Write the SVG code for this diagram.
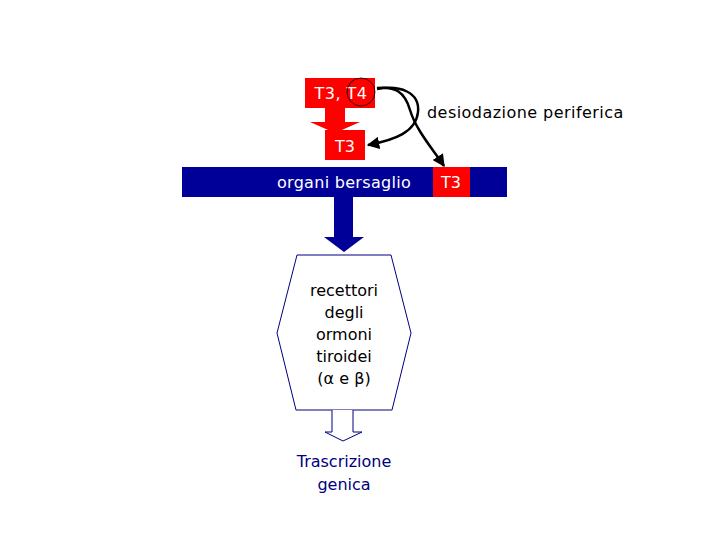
<svg xmlns="http://www.w3.org/2000/svg" width="720" height="540" viewBox="0 0 720 540">
<defs>
<style>
text{font-family:"DejaVu Sans","Liberation Sans",sans-serif;font-size:16px}
.w{fill:#fff;text-anchor:middle}
.b{fill:#000;text-anchor:middle}
.n{fill:#000080;text-anchor:middle}
.red{fill:#ff0000}
.navy{fill:#000099}
.conn{fill:none;stroke:#000;stroke-width:2.5}
</style>
<marker id="ah" viewBox="0 0 10 10" refX="9" refY="5" markerWidth="5" markerHeight="5" orient="auto">
<path d="M0,0 L10,5 L0,10 z" fill="#000"/>
</marker>
</defs>
<rect width="720" height="540" fill="#fff"/>
<g id="t3t4">
<rect class="red" x="305" y="78" width="70" height="30"/>
<text class="w" x="341" y="99" letter-spacing="0.5">T3, T4</text>
<circle cx="361" cy="92" r="14" fill="none" stroke="#000" stroke-width="0.8"/>
</g>
<g id="redarrow">
<path class="red" d="M325,107 H345 V122 H360 L335,133 L310,122 H325 Z"/>
</g>
<g id="t3">
<rect class="red" x="325" y="130" width="40" height="30"/>
<text class="w" x="345" y="152">T3</text>
</g>
<g id="bar">
<rect class="navy" x="182" y="167" width="325" height="30"/>
<text class="w" x="344" y="188" letter-spacing="0.3">organi bersaglio</text>
<rect class="red" x="433" y="167" width="37" height="30"/>
<text class="w" x="451" y="188">T3</text>
</g>
<g id="bluearrow">
<path class="navy" d="M334,197 H353 V237 H364 L344,252 L324,237 H334 Z"/>
</g>
<g id="recettori">
<path d="M297,255 H391 L411,333 L392,410 H296 L277,333 Z" fill="#fff" stroke="#000080" stroke-width="1"/>
<text class="b" x="344" y="296">recettori</text>
<text class="b" x="344" y="318">degli</text>
<text class="b" x="344" y="340">ormoni</text>
<text class="b" x="344" y="362">tiroidei</text>
<text class="b" x="344" y="384">(α e β)</text>
</g>
<g id="hollowarrow">
<path d="M332,410 V432 H325 L343,441 L362,432 H353 V410" fill="#fff" stroke="#000080" stroke-width="1"/>
</g>
<g id="trascrizione">
<text class="n" x="344" y="467">Trascrizione</text>
<text class="n" x="344" y="490">genica</text>
</g>
<g id="label">
<text x="427" y="118" fill="#000" letter-spacing="0.45">desiodazione periferica</text>
</g>
<g id="connectors">
<path class="conn" d="M377,89 C400,85 420,92 418,112 C416,132 395,140 368,145" marker-end="url(#ah)"/>
<path class="conn" d="M377,88 C395,86 405,92 410,110 C416,130 432,148 444,166" marker-end="url(#ah)"/>
</g>
</svg>
